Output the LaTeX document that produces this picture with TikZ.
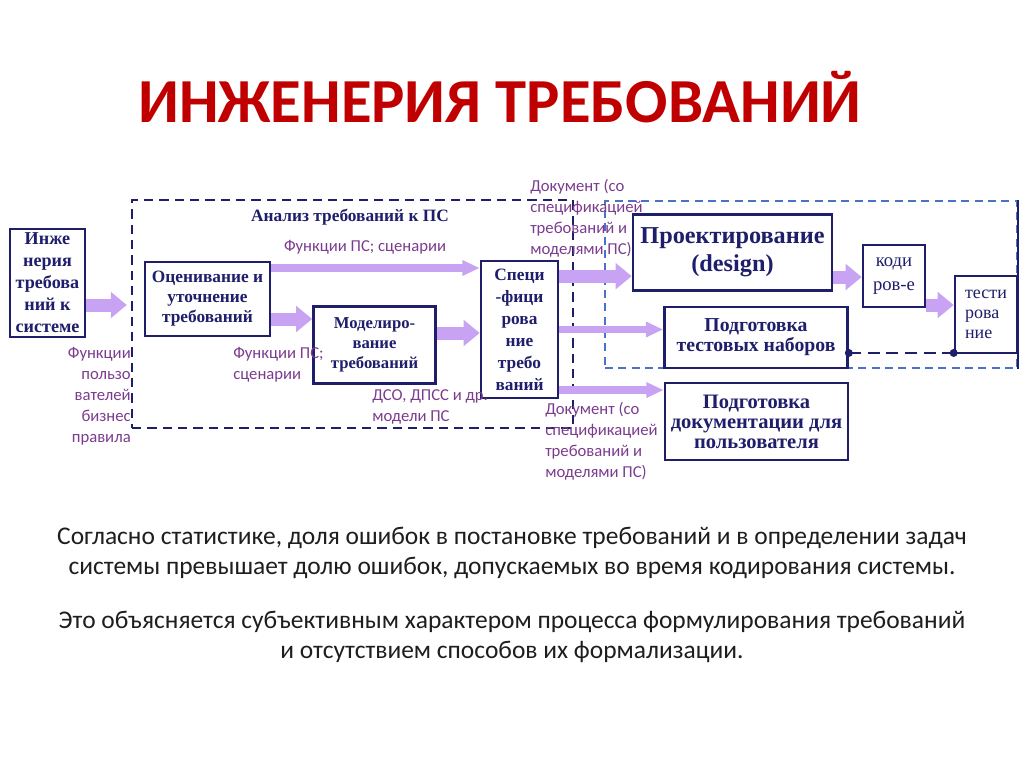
\documentclass[tikz,border=0pt]{standalone}
\usepackage{fontspec}
\setmainfont{Liberation Serif}
\newfontfamily\calibri{Carlito}
\usetikzlibrary{arrows.meta, positioning, calc}
\newlength{\px}\setlength{\px}{0.75pt}
\definecolor{navy}{HTML}{1E1E6B}
\definecolor{lav}{HTML}{C9A3F3}
\definecolor{plum}{HTML}{7C3C8E}
\definecolor{titlered}{HTML}{C00000}
\definecolor{dashblue}{HTML}{4A72C8}
\definecolor{bodygray}{HTML}{1E1E1E}

\begin{document}
\begin{tikzpicture}[
        x=0.75pt, y=-0.75pt,
        box/.style={draw=navy, line width=2pt, fill=white, text=navy, align=center, inner sep=0pt,
            font=\bfseries\fontsize{12.5}{15}\selectfont},
        lbl/.style={text=plum, inner sep=0pt, font=\calibri\fontsize{12.5}{15.75}\selectfont},
        fat/.style={draw=lav, line width=9.75pt, -{Triangle[length=12pt, width=19pt]}},
        slim/.style={draw=lav, line width=5.5pt, -{Triangle[length=13pt, width=11pt]}},
        frame/.style={draw=navy, line width=1.8pt, dash pattern=on 7pt off 4.5pt},
        body/.style={text=bodygray, align=center, font=\calibri\fontsize{19.1}{22.5}\selectfont}
    ]
        \useasboundingbox[fill=white] (0,0) rectangle (1024,767);

        % title
        \node[text=titlered, font=\calibri\bfseries\fontsize{47}{50}\selectfont] (title) at (500,97) {ИНЖЕНЕРИЯ ТРЕБОВАНИЙ};

        % dashed frames
        \node[frame, minimum width=441\px, minimum height=228\px] (analysis) at (352.5,314) {};
        \node[draw=dashblue, line width=1.5pt, dash pattern=on 6pt off 4pt, minimum width=412\px, minimum height=167\px] (impl) at (811,284.5) {};
        \draw[navy, line width=2pt] (impl.north east) -- (impl.south east);
        \node[text=navy, inner sep=0pt, font=\bfseries\fontsize{13}{15}\selectfont] (antitle) at (350,217) {Анализ требований к ПС};

        % boxes
        \node[box, minimum width=75\px, minimum height=108\px, font=\bfseries\fontsize{13.6}{16.5}\selectfont] (ingreq) at (47.5,283) {Инже\\нерия\\требова\\ний к\\системе};
        \node[box, minimum width=125\px, minimum height=74\px, font=\bfseries\fontsize{13}{15}\selectfont] (ocen) at (207.5,299) {Оценивание и\\уточнение\\требований};
        \node[box, minimum width=122\px, minimum height=77\px] (model) at (374.5,345) {Моделиро-\\вание\\требований};
        \node[box, minimum width=77\px, minimum height=137\px, font=\bfseries\fontsize{13}{16.5}\selectfont] (spec) at (519.5,329.5) {Специ\\-фици\\рова\\ние\\требо\\ваний};
        \node[box, minimum width=199\px, minimum height=76\px, font=\bfseries\fontsize{18.2}{21}\selectfont] (proekt) at (732.5,252.5) {Проектирование\\(design)};
        \node[box, minimum width=62\px, minimum height=62\px, font=\fontsize{14}{18.5}\selectfont] (kodi) at (894,276) {коди\\ров-е};
        \node[box, minimum width=62\px, minimum height=77\px, align=left, font=\fontsize{13.5}{15}\selectfont] (testi) at (986,314.5) {тести\\рова\\ние};
        \node[box, minimum width=183\px, minimum height=61\px, font=\bfseries\fontsize{14.8}{15}\selectfont] (podgtest) at (756,337.5) {Подготовка\\тестовых наборов};
        \node[box, minimum width=183\px, minimum height=77\px, font=\bfseries\fontsize{15.4}{15}\selectfont] (podgdoc) at (756.5,421.5) {Подготовка\\документации для\\пользователя};

        % arrows
        \draw[fat, shorten >=3pt] ([yshift=-16.5pt]ingreq.east) -- ([yshift=-16.5pt]ingreq.east -| analysis.west);
        \draw[slim] ([yshift=23.25pt]ocen.east) -- ([yshift=23.25pt]ocen.east -| spec.west);
        \draw[fat] ([yshift=-15pt]ocen.east) -- ([yshift=-15pt]ocen.east -| model.west);
        \draw[fat] ([yshift=9pt]model.east) -- ([yshift=9pt]model.east -| spec.west);
        \draw[fat] ([yshift=40pt]spec.east) -- ([yshift=40pt]spec.east -| proekt.west);
        \draw[slim] (spec.east) -- (spec.east -| podgtest.west);
        \draw[slim] ([yshift=-45.4pt]spec.east) -- ([yshift=-45.4pt]spec.east -| podgdoc.west);
        \draw[fat] ([yshift=-18.4pt]proekt.east) -- ([yshift=-18.4pt]proekt.east -| kodi.west);
        \draw[fat] ([yshift=-21.75pt]kodi.east) -- ([yshift=-21.75pt]kodi.east -| testi.west);

        % test data link
        \coordinate (tsA) at ([yshift=-11.6pt]podgtest.east);
        \coordinate (tsB) at (tsA -| testi.west);
        \draw[navy, line width=2.2pt, dash pattern=on 9pt off 5pt] (tsA) -- (tsB);
        \fill[navy] (tsA) circle (3pt) (tsB) circle (3pt);

        % labels
        \node[lbl, anchor=north east, align=right] (userfn) at (131,347) {Функции\\пользо\\вателей\\бизнес\\правила};
        \node[lbl] (lblfa) at (365,247) {Функции ПС; сценарии};
        \node[lbl, anchor=north west, align=left] (lblfb) at (233,347) {Функции ПС;\\сценарии};
        \node[lbl, anchor=north west, align=left] (lbldso) at (372,389) {ДСО, ДПСС и др.\\модели ПС};
        \node[lbl, anchor=north west, align=left] (docup) at (530,179) {Документ (со\\спецификацией\\требований и\\моделями ПС)};
        \node[lbl, anchor=north west, align=left] (docdown) at (545,402) {Документ (со\\спецификацией\\требований и\\моделями ПС)};

        % text
        \node[body] (statA) at (512,553) {Согласно статистике, доля ошибок в постановке требований и в определении задач\\системы превышает долю ошибок, допускаемых во время кодирования системы.};
        \node[body] (statB) at (512,637) {Это объясняется субъективным характером процесса формулирования требований\\и отсутствием способов их формализации.};
    \end{tikzpicture}
\end{document}
